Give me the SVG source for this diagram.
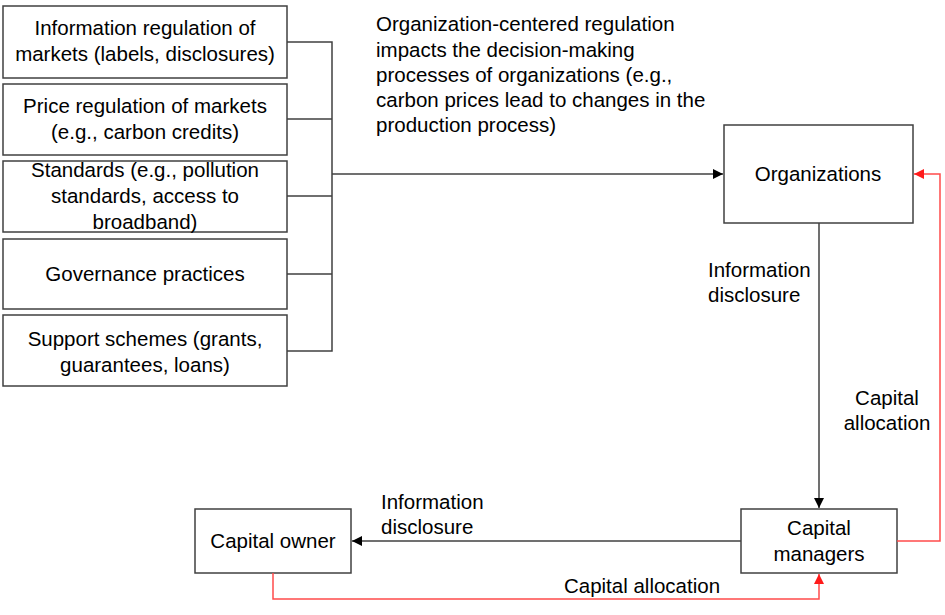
<svg xmlns="http://www.w3.org/2000/svg" width="945" height="615" viewBox="0 0 945 615">
<style>
.box{fill:#fff;stroke:#404040;stroke-width:1.5}
.t{font-family:"Liberation Sans",Arial,sans-serif;font-size:20.5px;fill:#000}
.m{text-anchor:middle}
.k{fill:none;stroke:#404040;stroke-width:1.5}
.r{fill:none;stroke:#ff4b4b;stroke-width:1.5}
</style>
<defs>
<marker id="ak" markerUnits="userSpaceOnUse" markerWidth="11" markerHeight="10" refX="10" refY="5" orient="auto"><path d="M0,0 L10,5 L0,10 z" fill="#000"/></marker>
<marker id="ar" markerUnits="userSpaceOnUse" markerWidth="11" markerHeight="10" refX="10" refY="5" orient="auto"><path d="M0,0 L10,5 L0,10 z" fill="#ff1a1a"/></marker>
</defs>
<rect width="945" height="615" fill="#fff"/>
<g id="n1"><rect class="box" x="3" y="6" width="284" height="72"/><text class="t m" x="145" y="35">Information regulation of</text><text class="t m" x="145" y="61">markets (labels, disclosures)</text></g>
<g id="n2"><rect class="box" x="3" y="84" width="284" height="71"/><text class="t m" x="145" y="113">Price regulation of markets</text><text class="t m" x="145" y="139">(e.g., carbon credits)</text></g>
<g id="n3"><rect class="box" x="3" y="161" width="284" height="71"/><text class="t m" x="145" y="177">Standards (e.g., pollution</text><text class="t m" x="145" y="203">standards, access to</text><text class="t m" x="145" y="229">broadband)</text></g>
<g id="n4"><rect class="box" x="3" y="239" width="284" height="70"/><text class="t m" x="145" y="281">Governance practices</text></g>
<g id="n5"><rect class="box" x="3" y="315" width="284" height="71"/><text class="t m" x="145" y="346">Support schemes (grants,</text><text class="t m" x="145" y="372">guarantees, loans)</text></g>
<g id="org"><rect class="box" x="724" y="125" width="189" height="98"/><text class="t m" x="818" y="181">Organizations</text></g>
<g id="cm"><rect class="box" x="741" y="509" width="156" height="64"/><text class="t m" x="819" y="535">Capital</text><text class="t m" x="819" y="561">managers</text></g>
<g id="co"><rect class="box" x="195" y="509" width="156" height="64"/><text class="t m" x="273" y="548">Capital owner</text></g>
<g id="connectors">
<path class="k" d="M287,42 H332 V351 H287 M287,119 H332 M287,196 H332 M287,274 H332"/>
<path class="k" d="M332,174 H723" marker-end="url(#ak)"/>
<path class="k" d="M819,223 V508" marker-end="url(#ak)"/>
<path class="k" d="M741,541 H352" marker-end="url(#ak)"/>
<path class="r" d="M897,541 H940 V174 H914" marker-end="url(#ar)"/>
<path class="r" d="M273,573 V599 H819 V574" marker-end="url(#ar)"/>
</g>
<g id="labels">
<text class="t" x="376" y="31">Organization-centered regulation</text>
<text class="t" x="376" y="57">impacts the decision-making</text>
<text class="t" x="376" y="82">processes of organizations (e.g.,</text>
<text class="t" x="376" y="107">carbon prices lead to changes in the</text>
<text class="t" x="376" y="132">production process)</text>
<text class="t" x="708" y="277">Information</text>
<text class="t" x="708" y="302">disclosure</text>
<text class="t m" x="887" y="405">Capital</text>
<text class="t m" x="887" y="430">allocation</text>
<text class="t" x="381" y="509">Information</text>
<text class="t" x="381" y="534">disclosure</text>
<text class="t m" x="642" y="593">Capital allocation</text>
</g>
</svg>
